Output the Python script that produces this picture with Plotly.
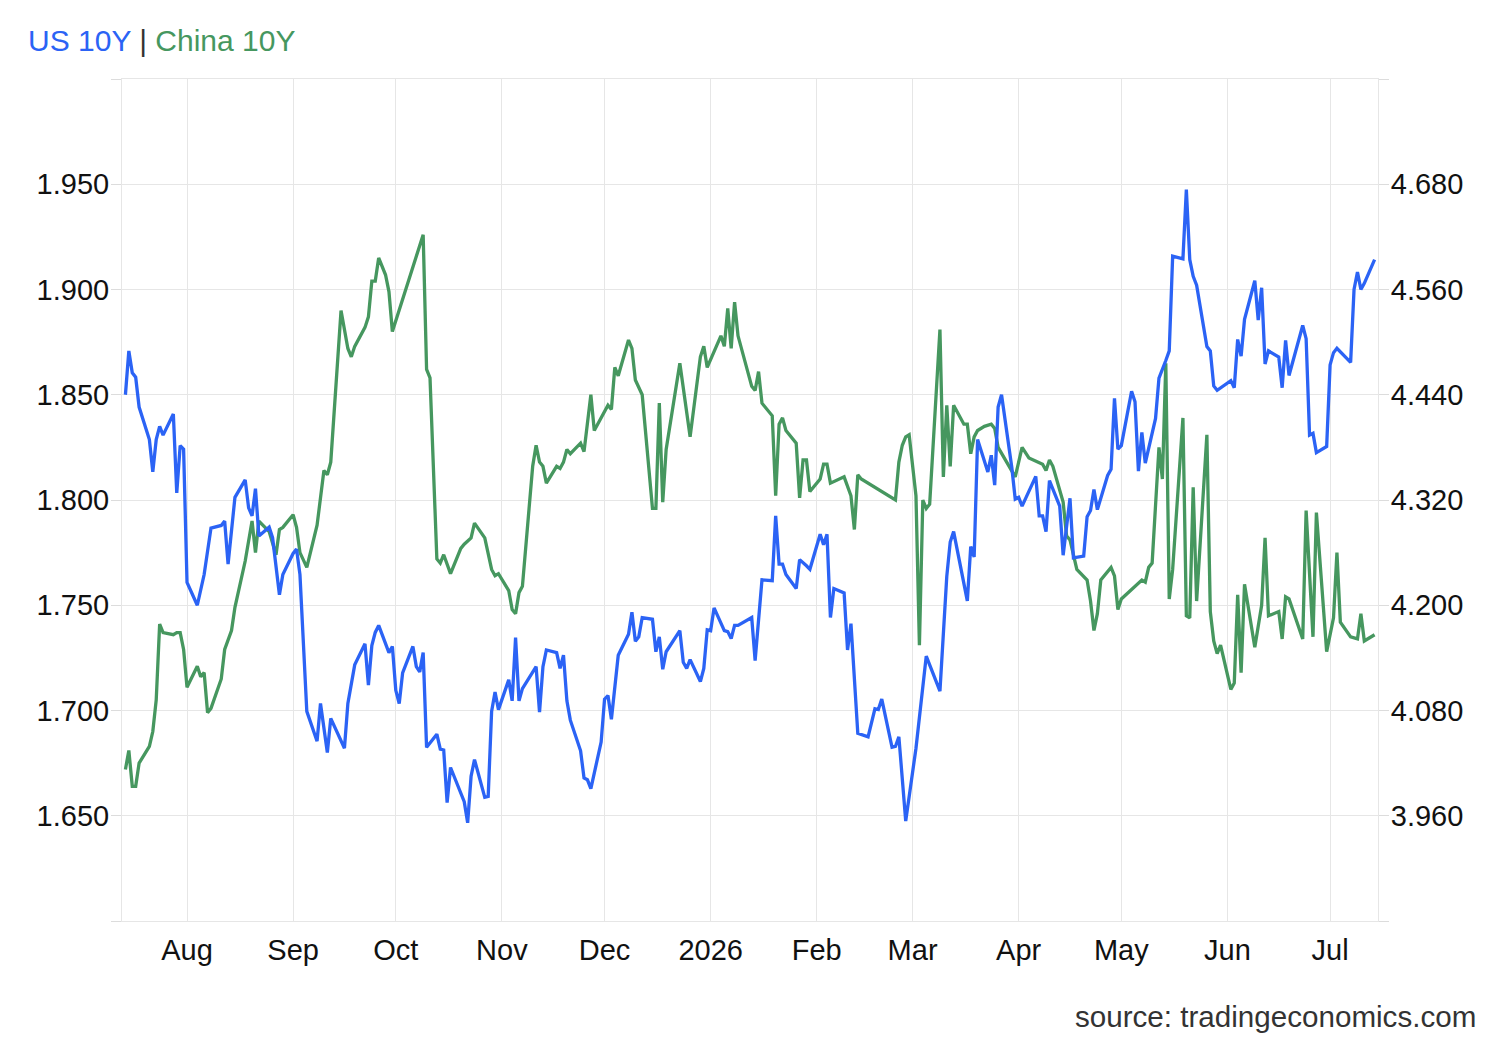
import plotly.graph_objects as go

# ---------------- data ----------------
us_dates = [
    "2025-07-14", "2025-07-15", "2025-07-16", "2025-07-17", "2025-07-18", "2025-07-21", "2025-07-22",
    "2025-07-23", "2025-07-24", "2025-07-25", "2025-07-28", "2025-07-29", "2025-07-30", "2025-07-31",
    "2025-08-01", "2025-08-04", "2025-08-06", "2025-08-08", "2025-08-11", "2025-08-12", "2025-08-13",
    "2025-08-15", "2025-08-18", "2025-08-19", "2025-08-20", "2025-08-21", "2025-08-22", "2025-08-25",
    "2025-08-26", "2025-08-28", "2025-08-29", "2025-09-01", "2025-09-02", "2025-09-03", "2025-09-05",
    "2025-09-08", "2025-09-09", "2025-09-11", "2025-09-12", "2025-09-16", "2025-09-17", "2025-09-19",
    "2025-09-22", "2025-09-23", "2025-09-24", "2025-09-25", "2025-09-26", "2025-09-29", "2025-09-30",
    "2025-10-01", "2025-10-02", "2025-10-03", "2025-10-06", "2025-10-07", "2025-10-08", "2025-10-09",
    "2025-10-10", "2025-10-13", "2025-10-14", "2025-10-15", "2025-10-16", "2025-10-17", "2025-10-21",
    "2025-10-22", "2025-10-23", "2025-10-24", "2025-10-27", "2025-10-28", "2025-10-29", "2025-10-30",
    "2025-10-31", "2025-11-03", "2025-11-04", "2025-11-05", "2025-11-06", "2025-11-07", "2025-11-11",
    "2025-11-12", "2025-11-13", "2025-11-14", "2025-11-17", "2025-11-18", "2025-11-19", "2025-11-20",
    "2025-11-21", "2025-11-24", "2025-11-25", "2025-11-26", "2025-11-27", "2025-11-30", "2025-12-01",
    "2025-12-02", "2025-12-03", "2025-12-05", "2025-12-08", "2025-12-09", "2025-12-10", "2025-12-11",
    "2025-12-12", "2025-12-15", "2025-12-16", "2025-12-17", "2025-12-18", "2025-12-19", "2025-12-23",
    "2025-12-24", "2025-12-25", "2025-12-26", "2025-12-29", "2025-12-30", "2025-12-31", "2026-01-01",
    "2026-01-02", "2026-01-05", "2026-01-06", "2026-01-07", "2026-01-08", "2026-01-09", "2026-01-13",
    "2026-01-14", "2026-01-16", "2026-01-19", "2026-01-20", "2026-01-21", "2026-01-22", "2026-01-23",
    "2026-01-26", "2026-01-27", "2026-01-29", "2026-01-30", "2026-02-02", "2026-02-03", "2026-02-04",
    "2026-02-05", "2026-02-06", "2026-02-09", "2026-02-10", "2026-02-11", "2026-02-13", "2026-02-16",
    "2026-02-18", "2026-02-19", "2026-02-20", "2026-02-23", "2026-02-24", "2026-02-25", "2026-02-27",
    "2026-03-02", "2026-03-05", "2026-03-09", "2026-03-11", "2026-03-12", "2026-03-13", "2026-03-17",
    "2026-03-18", "2026-03-19", "2026-03-20", "2026-03-23", "2026-03-24", "2026-03-25", "2026-03-26",
    "2026-03-27", "2026-03-30", "2026-03-31", "2026-04-01", "2026-04-02", "2026-04-06", "2026-04-07",
    "2026-04-08", "2026-04-09", "2026-04-10", "2026-04-13", "2026-04-14", "2026-04-16", "2026-04-17",
    "2026-04-20", "2026-04-21", "2026-04-22", "2026-04-23", "2026-04-24", "2026-04-27", "2026-04-28",
    "2026-04-29", "2026-04-30", "2026-05-01", "2026-05-04", "2026-05-05", "2026-05-06", "2026-05-07",
    "2026-05-08", "2026-05-11", "2026-05-12", "2026-05-14", "2026-05-15", "2026-05-16", "2026-05-19",
    "2026-05-20", "2026-05-21", "2026-05-22", "2026-05-23", "2026-05-26", "2026-05-27", "2026-05-28",
    "2026-05-29", "2026-06-02", "2026-06-03", "2026-06-04", "2026-06-05", "2026-06-06", "2026-06-09",
    "2026-06-10", "2026-06-11", "2026-06-12", "2026-06-13", "2026-06-16", "2026-06-17", "2026-06-18",
    "2026-06-19", "2026-06-23", "2026-06-24", "2026-06-25", "2026-06-26", "2026-06-27", "2026-06-30",
    "2026-07-01", "2026-07-02", "2026-07-03", "2026-07-07", "2026-07-08", "2026-07-09", "2026-07-10",
    "2026-07-11", "2026-07-14",
]
us_yield = [
    4.440, 4.490, 4.465, 4.460, 4.426, 4.389, 4.352,
    4.389, 4.404, 4.394, 4.418, 4.328, 4.382, 4.378,
    4.226, 4.200, 4.235, 4.288, 4.291, 4.296, 4.247,
    4.323, 4.343, 4.311, 4.302, 4.333, 4.279, 4.289,
    4.277, 4.212, 4.235, 4.259, 4.264, 4.235, 4.079,
    4.045, 4.088, 4.032, 4.071, 4.037, 4.088, 4.132,
    4.156, 4.109, 4.154, 4.169, 4.177, 4.146, 4.153,
    4.103, 4.088, 4.123, 4.153, 4.130, 4.124, 4.146,
    4.038, 4.053, 4.036, 4.035, 3.975, 4.015, 3.976,
    3.952, 4.005, 4.024, 3.981, 3.982, 4.079, 4.101,
    4.081, 4.115, 4.091, 4.163, 4.091, 4.105, 4.130,
    4.078, 4.130, 4.149, 4.146, 4.128, 4.143, 4.091,
    4.069, 4.034, 4.003, 4.001, 3.991, 4.044, 4.093,
    4.097, 4.070, 4.143, 4.167, 4.192, 4.159, 4.164,
    4.186, 4.184, 4.147, 4.164, 4.127, 4.147, 4.171,
    4.135, 4.128, 4.138, 4.113, 4.128, 4.172, 4.171,
    4.197, 4.171, 4.170, 4.162, 4.177, 4.177, 4.186,
    4.137, 4.229, 4.228, 4.302, 4.247, 4.247, 4.235,
    4.219, 4.252, 4.245, 4.241, 4.281, 4.269, 4.281,
    4.186, 4.219, 4.214, 4.149, 4.179, 4.054, 4.050,
    4.082, 4.081, 4.093, 4.038, 4.039, 4.050, 3.954,
    4.037, 4.142, 4.102, 4.233, 4.272, 4.284, 4.205,
    4.267, 4.255, 4.389, 4.352, 4.371, 4.337, 4.426,
    4.440, 4.357, 4.321, 4.323, 4.313, 4.347, 4.302,
    4.302, 4.284, 4.342, 4.313, 4.257, 4.322, 4.254,
    4.256, 4.301, 4.308, 4.332, 4.309, 4.348, 4.355,
    4.436, 4.378, 4.382, 4.444, 4.432, 4.353, 4.397,
    4.362, 4.413, 4.459, 4.479, 4.490, 4.598, 4.595,
    4.674, 4.594, 4.575, 4.565, 4.495, 4.490, 4.450,
    4.445, 4.456, 4.448, 4.503, 4.484, 4.526, 4.570,
    4.525, 4.562, 4.475, 4.490, 4.483, 4.448, 4.502,
    4.462, 4.519, 4.504, 4.394, 4.396, 4.374, 4.381,
    4.474, 4.488, 4.493, 4.477, 4.560, 4.580, 4.560,
    4.567, 4.594,
]

cn_dates = [
    "2025-07-14", "2025-07-15", "2025-07-16", "2025-07-17", "2025-07-18", "2025-07-21", "2025-07-22",
    "2025-07-23", "2025-07-24", "2025-07-25", "2025-07-28", "2025-07-29", "2025-07-30", "2025-07-31",
    "2025-08-01", "2025-08-04", "2025-08-05", "2025-08-06", "2025-08-07", "2025-08-08", "2025-08-11",
    "2025-08-12", "2025-08-14", "2025-08-15", "2025-08-18", "2025-08-20", "2025-08-21", "2025-08-22",
    "2025-08-25", "2025-08-27", "2025-08-28", "2025-08-29", "2025-09-01", "2025-09-02", "2025-09-03",
    "2025-09-05", "2025-09-08", "2025-09-10", "2025-09-11", "2025-09-12", "2025-09-15", "2025-09-17",
    "2025-09-18", "2025-09-19", "2025-09-22", "2025-09-23", "2025-09-24", "2025-09-25", "2025-09-26",
    "2025-09-28", "2025-09-29", "2025-09-30", "2025-10-09", "2025-10-10", "2025-10-11", "2025-10-13",
    "2025-10-14", "2025-10-15", "2025-10-17", "2025-10-20", "2025-10-21", "2025-10-23", "2025-10-24",
    "2025-10-27", "2025-10-29", "2025-10-30", "2025-10-31", "2025-11-03", "2025-11-04", "2025-11-05",
    "2025-11-06", "2025-11-07", "2025-11-10", "2025-11-11", "2025-11-12", "2025-11-13", "2025-11-14",
    "2025-11-17", "2025-11-18", "2025-11-19", "2025-11-20", "2025-11-21", "2025-11-24", "2025-11-25",
    "2025-11-27", "2025-11-28", "2025-12-02", "2025-12-03", "2025-12-04", "2025-12-05", "2025-12-08",
    "2025-12-09", "2025-12-10", "2025-12-11", "2025-12-12", "2025-12-15", "2025-12-16", "2025-12-17",
    "2025-12-18", "2025-12-19", "2025-12-23", "2025-12-26", "2025-12-29", "2025-12-30", "2025-12-31",
    "2026-01-04", "2026-01-05", "2026-01-06", "2026-01-07", "2026-01-08", "2026-01-09", "2026-01-13",
    "2026-01-14", "2026-01-15", "2026-01-16", "2026-01-19", "2026-01-20", "2026-01-21", "2026-01-22",
    "2026-01-23", "2026-01-26", "2026-01-27", "2026-01-28", "2026-01-29", "2026-01-30", "2026-02-02",
    "2026-02-03", "2026-02-04", "2026-02-05", "2026-02-09", "2026-02-10", "2026-02-11", "2026-02-12",
    "2026-02-13", "2026-02-14", "2026-02-24", "2026-02-25", "2026-02-26", "2026-02-27", "2026-02-28",
    "2026-03-02", "2026-03-03", "2026-03-04", "2026-03-05", "2026-03-06", "2026-03-09", "2026-03-10",
    "2026-03-11", "2026-03-12", "2026-03-13", "2026-03-16", "2026-03-17", "2026-03-18", "2026-03-19",
    "2026-03-20", "2026-03-22", "2026-03-24", "2026-03-25", "2026-03-26", "2026-03-31", "2026-04-02",
    "2026-04-04", "2026-04-08", "2026-04-09", "2026-04-10", "2026-04-11", "2026-04-14", "2026-04-15",
    "2026-04-16", "2026-04-18", "2026-04-21", "2026-04-22", "2026-04-23", "2026-04-24", "2026-04-25",
    "2026-04-28", "2026-04-29", "2026-04-30", "2026-05-01", "2026-05-07", "2026-05-08", "2026-05-09",
    "2026-05-10", "2026-05-12", "2026-05-13", "2026-05-14", "2026-05-15", "2026-05-16", "2026-05-19",
    "2026-05-20", "2026-05-21", "2026-05-22", "2026-05-23", "2026-05-26", "2026-05-27", "2026-05-28",
    "2026-05-29", "2026-05-30", "2026-06-02", "2026-06-03", "2026-06-04", "2026-06-05", "2026-06-06",
    "2026-06-09", "2026-06-11", "2026-06-12", "2026-06-13", "2026-06-16", "2026-06-17", "2026-06-18",
    "2026-06-19", "2026-06-23", "2026-06-24", "2026-06-26", "2026-06-27", "2026-06-30", "2026-07-02",
    "2026-07-03", "2026-07-04", "2026-07-07", "2026-07-09", "2026-07-10", "2026-07-11", "2026-07-14",
]
cn_yield = [
    1.672, 1.681, 1.664, 1.664, 1.675, 1.683, 1.690,
    1.705, 1.741, 1.737, 1.736, 1.737, 1.737, 1.729,
    1.711, 1.721, 1.716, 1.718, 1.699, 1.701, 1.715,
    1.729, 1.738, 1.749, 1.771, 1.790, 1.775, 1.790,
    1.785, 1.774, 1.786, 1.787, 1.793, 1.787, 1.775,
    1.768, 1.788, 1.814, 1.812, 1.818, 1.890, 1.872,
    1.868, 1.873, 1.882, 1.887, 1.904, 1.904, 1.915,
    1.907, 1.899, 1.880, 1.926, 1.862, 1.858, 1.772,
    1.770, 1.774, 1.765, 1.777, 1.779, 1.782, 1.789,
    1.782, 1.767, 1.764, 1.765, 1.757, 1.748, 1.746,
    1.756, 1.759, 1.816, 1.826, 1.818, 1.816, 1.808,
    1.816, 1.815, 1.818, 1.824, 1.822, 1.827, 1.823,
    1.850, 1.833, 1.845, 1.843, 1.863, 1.859, 1.876,
    1.872, 1.857, 1.853, 1.850, 1.796, 1.796, 1.846,
    1.799, 1.824, 1.865, 1.830, 1.868, 1.873, 1.863,
    1.878, 1.873, 1.891, 1.872, 1.894, 1.878, 1.854,
    1.852, 1.861, 1.846, 1.840, 1.802, 1.836, 1.839,
    1.833, 1.827, 1.801, 1.819, 1.819, 1.804, 1.810,
    1.817, 1.817, 1.808, 1.811, 1.807, 1.802, 1.786,
    1.812, 1.810, 1.800, 1.818, 1.826, 1.830, 1.831,
    1.802, 1.731, 1.800, 1.796, 1.798, 1.881, 1.811,
    1.845, 1.816, 1.845, 1.836, 1.836, 1.822, 1.830,
    1.833, 1.835, 1.836, 1.834, 1.825, 1.811, 1.825,
    1.820, 1.817, 1.814, 1.819, 1.816, 1.799, 1.783,
    1.781, 1.767, 1.762, 1.752, 1.738, 1.746, 1.762,
    1.768, 1.764, 1.748, 1.753, 1.762, 1.761, 1.768,
    1.770, 1.825, 1.810, 1.865, 1.753, 1.767, 1.839,
    1.745, 1.744, 1.806, 1.752, 1.831, 1.747, 1.733,
    1.727, 1.731, 1.710, 1.713, 1.755, 1.718, 1.760,
    1.730, 1.750, 1.782, 1.745, 1.747, 1.734, 1.754,
    1.753, 1.734, 1.795, 1.735, 1.794, 1.728, 1.744,
    1.775, 1.742, 1.735, 1.734, 1.746, 1.733, 1.736,
]

month_ticks = ["2025-08-01", "2025-09-01", "2025-10-01", "2025-11-01", "2025-12-01", "2026-01-01",
               "2026-02-01", "2026-03-01", "2026-04-01", "2026-05-01", "2026-06-01", "2026-07-01"]
month_labels = ["Aug", "Sep", "Oct", "Nov", "Dec", "2026", "Feb", "Mar", "Apr", "May", "Jun", "Jul"]

cn_ticks = [1.60, 1.65, 1.70, 1.75, 1.80, 1.85, 1.90, 1.95, 2.00]
cn_labels = ["", "1.650", "1.700", "1.750", "1.800", "1.850", "1.900", "1.950", ""]
us_ticks = [3.84, 3.96, 4.08, 4.20, 4.32, 4.44, 4.56, 4.68, 4.80]
us_labels = ["", "3.960", "4.080", "4.200", "4.320", "4.440", "4.560", "4.680", ""]

# ---------------- style ----------------
BLUE = "#2b63f5"
GREEN = "#46975f"
GRID = "#e6e6e6"
FONT = "Liberation Sans, Arial, sans-serif"

fig = go.Figure()
fig.add_trace(go.Scatter(x=us_dates, y=us_yield, name="US 10Y", yaxis="y2", mode="lines",
                         line=dict(color=BLUE, width=3.3)))
fig.add_trace(go.Scatter(x=cn_dates, y=cn_yield, name="China 10Y", yaxis="y", mode="lines",
                         line=dict(color=GREEN, width=3.3)))

fig.update_layout(
    width=1500, height=1040,
    margin=dict(l=122, r=122, t=79, b=119),
    paper_bgcolor="white", plot_bgcolor="white",
    font=dict(family=FONT, size=29, color="#111111"),
    showlegend=False,
    title=dict(
        text=f"<span style='color:{BLUE}'>US 10Y</span><span style='color:#333333'> | </span>"
             f"<span style='color:{GREEN}'>China 10Y</span>",
        xref="container", yref="container", x=28 / 1500, xanchor="left",
        y=1 - 40 / 1040, yanchor="middle",
        font=dict(family=FONT, size=30),
    ),
    xaxis=dict(
        type="date", range=["2025-07-13", "2026-07-15"],
        tickvals=month_ticks, ticktext=month_labels,
        showgrid=True, gridcolor=GRID, gridwidth=1,
        showline=True, linecolor=GRID, linewidth=1, mirror=True,
        ticks="", ticklabelstandoff=3, tickfont=dict(size=29, color="#111111"),
        zeroline=False,
    ),
    yaxis=dict(
        range=[1.60, 2.00], tickvals=cn_ticks, ticktext=cn_labels,
        showgrid=True, gridcolor=GRID, gridwidth=1,
        showline=True, linecolor=GRID, linewidth=1, mirror=True,
        ticks="outside", ticklen=10, tickcolor="#dcdcdc", ticklabelstandoff=-4,
        tickfont=dict(size=29, color="#111111"), zeroline=False,
    ),
    yaxis2=dict(
        range=[3.84, 4.80], tickvals=us_ticks, ticktext=us_labels,
        overlaying="y", side="right", showgrid=False,
        ticks="outside", ticklen=10, tickcolor="#dcdcdc", ticklabelstandoff=-4,
        tickfont=dict(size=29, color="#111111"), zeroline=False,
    ),
    annotations=[dict(
        text="source: tradingeconomics.com", xref="paper", yref="paper",
        x=(1478 - 122) / 1256, y=(921 - 1016) / 842, xanchor="right", yanchor="middle",
        showarrow=False, font=dict(family=FONT, size=29.6, color="#333333"),
    )],
)

fig.write_html("out.html")
